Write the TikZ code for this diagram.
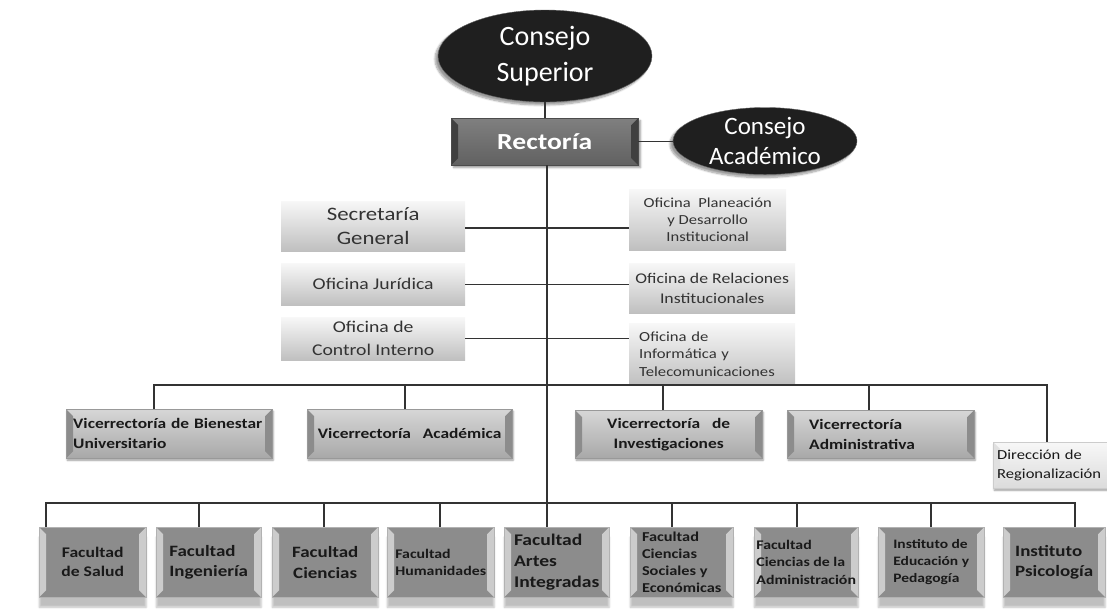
\documentclass[tikz,border=0pt]{standalone}
\usepackage{fontspec}
\setmainfont{Carlito}
\newfontfamily\ancha{Carlito}[FakeStretch=1.2]
\newcommand\letra[2]{\ancha\fontsize{#1}{#2}\selectfont}
\usetikzlibrary{shapes.geometric,shadows.blur}

\begin{document}
\begin{tikzpicture}[x=1pt,y=-1pt,
    conector/.style={black!80, line width=1.3pt},
    consejo/.style={ellipse, inner sep=0pt, fill=black!88, draw=black!60, text=white,
      align=center, blur shadow={shadow blur steps=8, shadow xshift=-3pt, shadow yshift=-3pt}},
    bisel/.style={path picture={
      \fill[#1] (path picture bounding box.north west) -- ([xshift=7pt,yshift=-7pt]path picture bounding box.north west)
        -- ([xshift=7pt,yshift=7pt]path picture bounding box.south west) -- (path picture bounding box.south west) -- cycle;
      \fill[#1] (path picture bounding box.north east) -- ([xshift=-7pt,yshift=-7pt]path picture bounding box.north east)
        -- ([xshift=-7pt,yshift=7pt]path picture bounding box.south east) -- (path picture bounding box.south east) -- cycle;}},
    rector/.style={rectangle, anchor=north west, top color=black!50, bottom color=black!62, draw=black!70,
      bisel=black!75, text=white, font=\letra{23}{28}\bfseries, blur shadow},
    oficina/.style={rectangle, anchor=north west, inner sep=3pt, top color=black!3, bottom color=black!25,
      text=black!80, align=center},
    vice/.style={rectangle, anchor=north west, inner sep=4pt, top color=black!16, bottom color=black!34,
      draw=black!40, bisel=black!45, text=black!90, font=\letra{14.5}{20}\bfseries,
      blur shadow={shadow xshift=1pt, shadow yshift=-2pt}},
    facultad/.style={rectangle, anchor=north west, inner sep=3pt, fill=black!45, draw=black!30,
      bisel=black!20, text=black!90, minimum height=70pt,
      blur shadow={shadow xshift=0pt, shadow yshift=-10pt, shadow opacity=25}},
  ]
\useasboundingbox (0,0) rectangle (1107,614);

% cuerpos colegiados y rectoria
\node[consejo, minimum width=214pt, minimum height=92pt, font=\fontsize{28}{36}\selectfont]
  (superior) at (545,56) {Consejo\\Superior};
\node[rector, minimum width=187pt, minimum height=47pt] (rectoria) at (451,118) {Rector\'{\i}a};
\node[consejo, minimum width=184pt, minimum height=64pt, font=\fontsize{25}{30}\selectfont]
  (academico) at (765,141) {Consejo\\Acad\'emico};

\draw[conector] (superior.south) -- (superior.south |- rectoria.north);
\draw[conector] (rectoria.east) -- (rectoria.east -| academico.west);

% oficinas asesoras
\node[oficina, minimum width=184pt, minimum height=50pt, font=\letra{19}{24}]
  (secretaria) at (281,201) {Secretar\'{\i}a\\General};
\node[oficina, minimum width=184pt, minimum height=42pt, font=\letra{16.4}{20}]
  (juridica) at (281,263) {Oficina Jur\'{\i}dica};
\node[oficina, minimum width=184pt, minimum height=43pt, font=\letra{16.4}{23}]
  (control) at (281,317) {Oficina de\\Control Interno};
\node[oficina, minimum width=157pt, minimum height=61pt, font=\letra{13.8}{17}]
  (planeacion) at (629,189) {Oficina~~Planeaci\'on\\y Desarrollo\\Institucional};
\node[oficina, minimum width=166pt, minimum height=50pt, font=\letra{14.8}{20}]
  (relaciones) at (629,263) {Oficina de Relaciones\\Institucionales};
\node[oficina, minimum width=166pt, minimum height=62pt, font=\letra{13.9}{17.5}, align=left,
  text width=146pt] (informatica) at (629,323) {Oficina de\\Inform\'atica y\\Telecomunicaciones};

\draw[conector] (secretaria.east |- 0,228) -- (planeacion.west |- 0,228);
\draw[conector] (juridica.east) -- (juridica.east -| relaciones.west);
\draw[conector] (control.east) -- (control.east -| informatica.west);

% vicerrectorias
\node[vice, minimum width=206pt, minimum height=49pt, align=left, text width=192pt]
  (bienestar) at (66,409) {Vicerrector\'{\i}a de Bienestar\\Universitario};
\node[vice, minimum width=205pt, minimum height=49pt, align=center]
  (vacademica) at (307,409) {Vicerrector\'{\i}a~~~Acad\'emica};
\node[vice, minimum width=187pt, minimum height=48pt, align=center]
  (investigacion) at (575,410) {Vicerrector\'{\i}a~~~de\\Investigaciones};
\node[vice, minimum width=187pt, minimum height=48pt, align=left, text width=143pt]
  (administrativa) at (787,410) {Vicerrector\'{\i}a\\Administrativa};
\node[vice, top color=black!3, bottom color=black!14, bisel=black!12, draw=black!20,
  minimum width=125pt, minimum height=46pt, align=left, text width=117pt, inner sep=2pt,
  font=\letra{13.8}{19}] (regional) at (993,442) {Direcci\'on de\\Regionalizaci\'on};

\coordinate (busv) at (547,385);
\draw[conector] (bienestar.north -| 154,0) |- (busv) -| (regional.north -| 1047,0);
\foreach \n/\x in {vacademica/405, investigacion/663, administrativa/869}
  \draw[conector] (\n.north -| \x,0) -- (busv -| \x,0);

% facultades e institutos
\node[facultad, minimum width=107pt, align=center, font=\letra{14.7}{19}\bfseries]
  (salud) at (39,527) {Facultad\\de Salud};
\node[facultad, minimum width=105pt, align=left, font=\letra{15.8}{20}\bfseries]
  (ingenieria) at (156,527) {Facultad\\Ingenier\'{\i}a};
\node[facultad, minimum width=106pt, align=center, font=\letra{15.8}{21}\bfseries]
  (ciencias) at (272,527) {Facultad\\Ciencias};
\node[facultad, minimum width=107pt, align=left, font=\letra{13.2}{17}\bfseries]
  (humanidades) at (387,527) {Facultad\\Humanidades};
\node[facultad, minimum width=105pt, align=left, font=\letra{16.3}{21}\bfseries]
  (artes) at (504,527) {Facultad\\Artes\\Integradas};
\node[facultad, minimum width=103pt, align=left, font=\letra{13.6}{17}\bfseries]
  (sociales) at (630,527) {Facultad\\Ciencias\\Sociales y\\Econ\'omicas};
\node[facultad, minimum width=104pt, align=left, inner sep=1pt, font=\letra{13.2}{17.5}\bfseries]
  (administracion) at (754,527) {Facultad\\Ciencias de la\\Administraci\'on};
\node[facultad, minimum width=106pt, align=left, font=\letra{12.9}{17}\bfseries]
  (educacion) at (878,527) {Instituto de\\Educaci\'on y\\Pedagog\'{\i}a};
\node[facultad, minimum width=102pt, align=left, font=\letra{15.8}{20}\bfseries]
  (psicologia) at (1003,527) {Instituto\\Psicolog\'{\i}a};

\coordinate (busf) at (547,503);
\draw[conector] (salud.north -| 46,0) |- (busf) -| (psicologia.north -| 1075,0);
\foreach \n/\x in {ingenieria/199, ciencias/324, humanidades/440, sociales/672, administracion/797, educacion/931}
  \draw[conector] (\n.north -| \x,0) -- (busf -| \x,0);

% tronco central
\draw[conector] (rectoria.south -| busv) -- (artes.north -| busv);
\end{tikzpicture}
\end{document}
